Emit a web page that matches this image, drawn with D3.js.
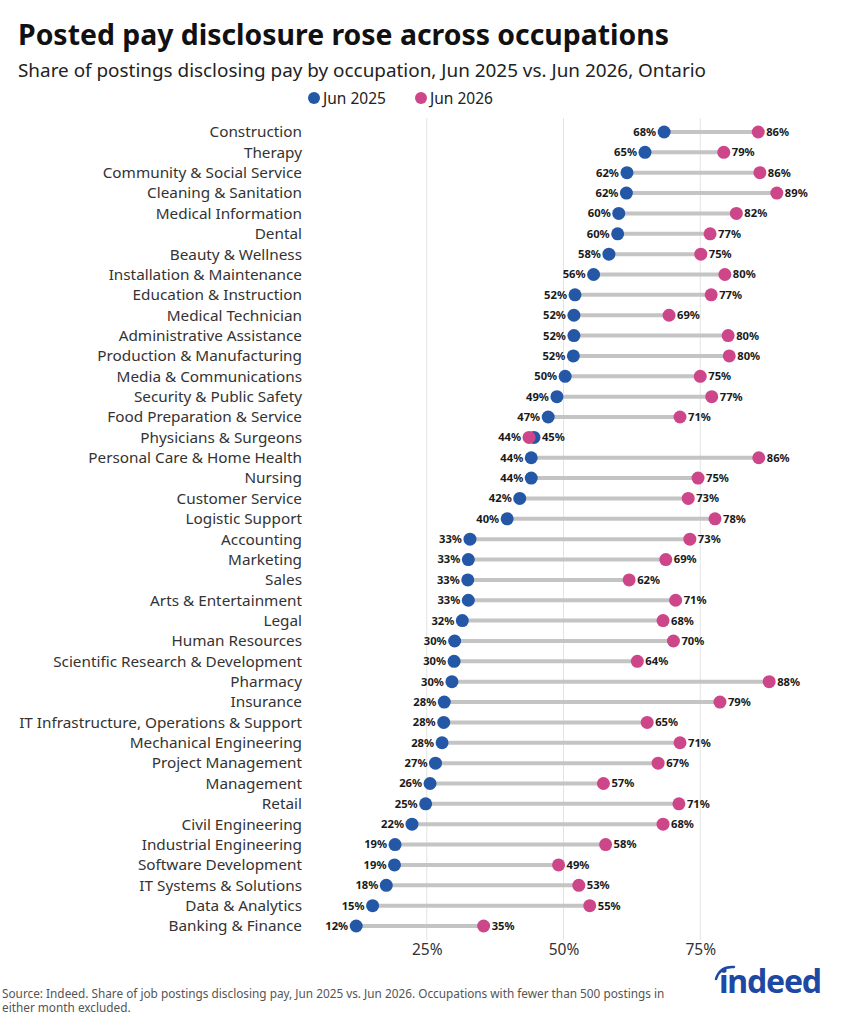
<!DOCTYPE html>
<html>
<head>
<meta charset="utf-8">
<script src="https://cdn.jsdelivr.net/npm/d3@7"></script>
<style>
  html, body { margin: 0; padding: 0; background: #fff; }
  svg { display: block; font-family: "Noto Sans", "Open Sans", sans-serif; }
</style>
</head>
<body>
<svg id="chart" width="853" height="1024"></svg>
<script>
const categories = [
  "Construction", "Therapy", "Community & Social Service", "Cleaning & Sanitation",
  "Medical Information", "Dental", "Beauty & Wellness", "Installation & Maintenance",
  "Education & Instruction", "Medical Technician", "Administrative Assistance",
  "Production & Manufacturing", "Media & Communications", "Security & Public Safety",
  "Food Preparation & Service", "Physicians & Surgeons", "Personal Care & Home Health",
  "Nursing", "Customer Service", "Logistic Support", "Accounting", "Marketing", "Sales",
  "Arts & Entertainment", "Legal", "Human Resources", "Scientific Research & Development",
  "Pharmacy", "Insurance", "IT Infrastructure, Operations & Support",
  "Mechanical Engineering", "Project Management", "Management", "Retail",
  "Civil Engineering", "Industrial Engineering", "Software Development",
  "IT Systems & Solutions", "Data & Analytics", "Banking & Finance"
];
const jun2025 = [
  68.4, 64.9, 61.6, 61.5, 60.1, 59.9, 58.3, 55.5, 52.1, 51.9, 51.9,
  51.8, 50.3, 48.8, 47.2, 44.6, 44.1, 44.1, 42.0, 39.7, 32.9, 32.6, 32.5,
  32.6, 31.5, 30.1, 30.0, 29.6, 28.2, 28.1, 27.8, 26.6, 25.6, 24.8,
  22.3, 19.2, 19.1, 17.6, 15.1, 12.1
];
const jun2026 = [
  85.6, 79.3, 85.9, 89.0, 81.6, 76.8, 75.1, 79.5, 77.0, 69.3, 80.1,
  80.3, 75.0, 77.1, 71.3, 43.7, 85.7, 74.6, 72.8, 77.7, 73.1, 68.7, 62.0,
  70.5, 68.2, 70.1, 63.5, 87.6, 78.6, 65.3, 71.3, 67.3, 57.3, 71.1,
  68.2, 57.7, 49.1, 52.8, 54.8, 35.4
];
const tickValues = [25, 50, 75];
const seriesNames = ["Jun 2025", "Jun 2026"];
const colors = { "Jun 2025": "#2557a7", "Jun 2026": "#cd4689" };

const svg = d3.select("#chart");

// Title & subtitle
svg.append("text").attr("x", 18).attr("y", 45)
  .attr("font-size", 28.4).attr("font-weight", 700).attr("fill", "#111")
  .text("Posted pay disclosure rose across occupations");
svg.append("text").attr("x", 18).attr("y", 77)
  .attr("font-size", 18.9).attr("fill", "#222")
  .text("Share of postings disclosing pay by occupation, Jun 2025 vs. Jun 2026, Ontario");

// Legend
const legend = svg.append("g");
const legendItems = [{ name: seriesNames[0], x: 314 }, { name: seriesNames[1], x: 421 }];
legendItems.forEach(it => {
  legend.append("circle").attr("cx", it.x).attr("cy", 98).attr("r", 6).attr("fill", colors[it.name]);
  legend.append("text").attr("x", it.x + 9).attr("y", 104).attr("font-size", 15.5).attr("fill", "#222").text(it.name);
});

const x = d3.scaleLinear().domain([0, 100]).range([290, 837]);
const y = d3.scalePoint().domain(categories).range([132, 926]);

// Gridlines
svg.append("g").selectAll("line").data(tickValues).join("line")
  .attr("x1", d => x(d)).attr("x2", d => x(d))
  .attr("y1", 118).attr("y2", 940)
  .attr("stroke", "#e3e3e3").attr("stroke-width", 1);

// X axis
const xAxis = svg.append("g").attr("transform", "translate(0,940)")
  .call(d3.axisBottom(x).tickValues(tickValues).tickSize(0).tickPadding(4).tickFormat(d => d + "%"));
xAxis.select(".domain").remove();
xAxis.selectAll("text").attr("font-size", 15.5).attr("fill", "#333").attr("font-family", "Noto Sans, sans-serif");

// Category labels
svg.append("g").selectAll("text").data(categories).join("text")
  .attr("x", 302).attr("y", d => y(d)).attr("dy", "0.35em")
  .attr("text-anchor", "end").attr("font-size", 15.3).attr("fill", "#333")
  .text(d => d);

const rows = categories.map((c, i) => ({ cat: c, a: jun2025[i], b: jun2026[i] }));

// Connecting lines
svg.append("g").selectAll("line").data(rows).join("line")
  .attr("x1", d => x(d.a)).attr("x2", d => x(d.b))
  .attr("y1", d => y(d.cat)).attr("y2", d => y(d.cat))
  .attr("stroke", "#c4c4c4").attr("stroke-width", 4);

// Dots
const dots = svg.append("g");
rows.forEach(d => {
  dots.append("circle").attr("cx", x(d.a)).attr("cy", y(d.cat)).attr("r", 6.5).attr("fill", colors["Jun 2025"]);
  dots.append("circle").attr("cx", x(d.b)).attr("cy", y(d.cat)).attr("r", 6.5).attr("fill", colors["Jun 2026"]);
});

// Value labels: lower value on left, higher on right
const labels = svg.append("g").attr("font-size", 11.2).attr("font-weight", 700).attr("fill", "#1a1a1a");
rows.forEach(d => {
  const lo = Math.min(d.a, d.b), hi = Math.max(d.a, d.b);
  labels.append("text").attr("x", x(lo) - 8).attr("y", y(d.cat)).attr("dy", "0.35em")
    .attr("text-anchor", "end").text(Math.round(lo) + "%");
  labels.append("text").attr("x", x(hi) + 8).attr("y", y(d.cat)).attr("dy", "0.35em")
    .attr("text-anchor", "start").text(Math.round(hi) + "%");
});

// Source
const src = svg.append("text").attr("font-size", 11.8).attr("fill", "#555");
src.append("tspan").attr("x", 2).attr("y", 998)
  .text("Source: Indeed. Share of job postings disclosing pay, Jun 2025 vs. Jun 2026. Occupations with fewer than 500 postings in");
src.append("tspan").attr("x", 2).attr("y", 1012).text("either month excluded.");

// Logo
const logo = svg.append("g");
logo.append("text").attr("x", 719).attr("y", 993)
  .attr("font-size", 32).attr("font-weight", 700).attr("fill", "#1d48a3")
  .attr("letter-spacing", -1.2).text("indeed");
logo.append("path").attr("d", "M716,979 Q720,966 734,967")
  .attr("fill", "none").attr("stroke", "#1d48a3").attr("stroke-width", 2.5).attr("stroke-linecap", "round");
</script>
</body>
</html>
